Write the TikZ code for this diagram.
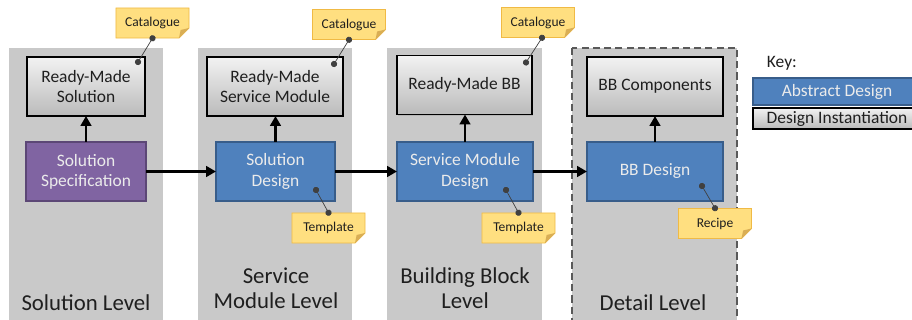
\documentclass[tikz,border=0pt]{standalone}
\usepackage{fontspec}
\setmainfont{Carlito}
\usepackage{xcolor}
\usepackage{tikz}
\usetikzlibrary{arrows.meta,shadows}

\definecolor{panelgrey}{HTML}{C9C9C9}
\definecolor{bluefill}{HTML}{4F81BD}
\definecolor{blueline}{HTML}{385D8A}
\definecolor{purplefill}{HTML}{8064A2}
\definecolor{purpleline}{HTML}{5C4776}
\definecolor{notebg}{HTML}{FFDF80}
\definecolor{noteedge}{HTML}{F0BA45}
\definecolor{notecrease}{HTML}{D9AE55}

% sticky note: name, centre (x,y), text
\newcommand{\stickynote}[3]{%
\filldraw[fill=notebg,draw=noteedge,line width=0.6pt]([shift={(-0.9125cm,0.375cm)}]#2)--++(1.825cm,0cm)--++(0cm,-0.5cm)--++(-0.25cm,-0.25cm)--++(-1.575cm,0cm)--cycle;
\fill[notecrease]([shift={(0.9125cm,-0.125cm)}]#2)--++(-0.25cm,-0.25cm)--++(0.04cm,0.2cm)--cycle;
\node[notetext](#1) at (#2){#3};}

\begin{document}
\begin{tikzpicture}[x=0.025cm,y=-0.025cm,
level/.style={font=\fontsize{16.2}{18}\selectfont,text=black!88,align=center},
made/.style={draw=black,line width=0.9pt,top color=black!5,bottom color=black!27,text=black!88,font=\fontsize{12.4}{14.4}\selectfont,align=center,inner sep=0pt,outer sep=0pt,minimum height=1.475cm,drop shadow={shadow xshift=0.8pt,shadow yshift=-0.8pt,opacity=0.25}},
design/.style={draw=blueline,line width=0.9pt,fill=bluefill,text=white!92!black,font=\fontsize{12.4}{14.4}\selectfont,align=center,inner sep=0pt,outer sep=0pt,minimum height=1.475cm},
specbox/.style={design,fill=purplefill,draw=purpleline},
flow/.style={line width=1.8pt,-{Triangle[length=7pt,width=7.5pt]}},
pin/.style={black!75,line width=0.5pt,{Circle[length=4.4pt]}-{Circle[length=4.4pt]},shorten <=-2.2pt,shorten >=-2.2pt},
notetext/.style={font=\fontsize{9.6}{11}\selectfont,text=black!88,inner sep=0pt,minimum width=1.825cm,minimum height=0.75cm}]
\useasboundingbox(0,0)rectangle(912,320);
\clip(0,0)rectangle(912,320);

% level columns
\fill[panelgrey](9,48)rectangle(163,330);
\fill[panelgrey](198,48)rectangle(352,330);
\fill[panelgrey](387,48)rectangle(542,330);
\filldraw[fill=panelgrey,draw=black!65,line width=0.9pt,dash pattern=on 5pt off 3pt](572,48)rectangle(737,330);

\node[level](lvl1) at (86,303){Solution Level};
\node[level](lvl2) at (276,288){Service\\Module Level};
\node[level](lvl3) at (465,288){Building Block\\Level};
\node[level](lvl4) at (653,303){Detail Level};

% boxes
\node[made,minimum width=2.95cm](rms) at (86,86.5){Ready-Made\\Solution};
\node[specbox,minimum width=3cm](spec) at (86,171.5){Solution\\Specification};
\node[made,minimum width=3.4cm](rmsm) at (275,86.5){Ready-Made\\Service Module};
\node[design,minimum width=2.975cm](sold) at (275.5,171.5){Solution\\Design};
\node[made,minimum width=3.375cm](rmbb) at (464.5,85){Ready-Made BB};
\node[design,minimum width=3.4cm](smd) at (465,171.5){Service Module\\Design};
\node[made,minimum width=3.4cm](bbc) at (655,86.5){BB Components};
\node[design,minimum width=3.4cm](bbd) at (655,171.5){BB Design};

\draw[flow](spec.north)--(spec.north|-rms.south);
\draw[flow](sold.north)--(sold.north|-rmsm.south);
\draw[flow](smd.north)--(smd.north|-rmbb.south);
\draw[flow](bbd.north)--(bbd.north|-bbc.south);
\draw[flow](spec.east)--(sold.west);
\draw[flow](sold.east)--(smd.west);
\draw[flow](smd.east)--(bbd.west);

% notes
\stickynote{cat1}{152.5,23}{Catalogue}
\stickynote{cat2}{349,24.5}{Catalogue}
\stickynote{cat3}{538,22.5}{Catalogue}
\stickynote{tpl1}{328.5,228}{Template}
\stickynote{tpl2}{518.5,228}{Template}
\stickynote{rcp}{715,223.5}{Recipe}

\draw[pin](cat1.south)--([shift={(-0.175cm,-0.125cm)}]rms.north east);
\draw[pin](cat2.south)--([shift={(-0.225cm,-0.175cm)}]rmsm.north east);
\draw[pin]([xshift=0.1cm]cat3.south)--([shift={(-0.15cm,-0.175cm)}]rmbb.north east);
\draw[pin](tpl1.north)--([shift={(-0.475cm,0.275cm)}]sold.south east);
\draw[pin](tpl2.north)--([shift={(-0.675cm,0.275cm)}]smd.south east);
\draw[pin](rcp.north)--([shift={(-0.525cm,0.375cm)}]bbd.south east);

% key
\node[anchor=west,font=\fontsize{12.4}{14}\selectfont,text=black!88](key) at (762,63){Key:};
\node[design,minimum width=4.2cm,minimum height=0.675cm](kabs) at (837,91.5){Abstract Design};
\node[made,minimum width=4.2cm,minimum height=0.525cm](kins) at (837,118.5){Design Instantiation};
\end{tikzpicture}
\end{document}
